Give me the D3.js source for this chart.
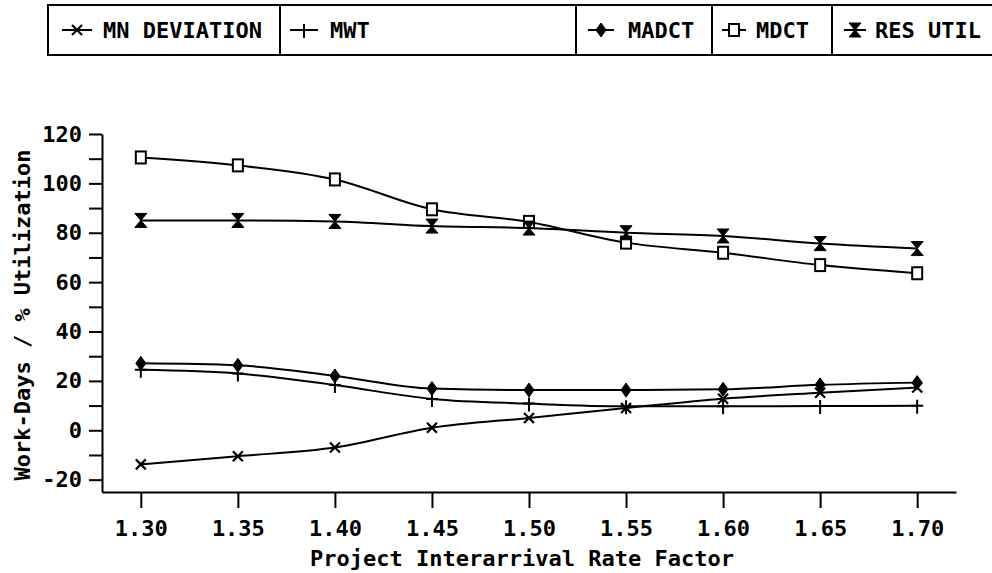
<!DOCTYPE html>
<html>
<head>
  <meta charset="utf-8">
  <title>Work-Days / % Utilization</title>
  <script src="https://cdnjs.cloudflare.com/ajax/libs/d3/7.8.5/d3.min.js"></script>
</head>
<style>
  body { margin: 0; background: #fff; }
  svg { display: block; }
  text { font-family: "DejaVu Sans Mono", monospace; font-size: 22px; font-weight: bold; fill: #000; }
</style>
<body>
<script type="text/javascript">
  // values
  const rateFactor   = [1.30, 1.35, 1.40, 1.45, 1.50, 1.55, 1.60, 1.65, 1.70];
  const mnDeviation  = [-13.8, -10.5, -7, 1, 5, 9, 12.8, 15.2, 17.3];
  const mwt          = [24.5, 23, 18.3, 12.7, 10.8, 9.7, 9.7, 9.8, 9.9];
  const madct        = [27.1, 26.3, 22, 16.9, 16.3, 16.3, 16.6, 18.4, 19.3];
  const mdct         = [110.5, 107.3, 101.6, 89.5, 84.4, 76, 71.9, 66.9, 63.6];
  const resUtil      = [85, 85, 84.6, 82.7, 81.9, 80, 78.7, 75.6, 73.6];
  const seriesNames  = ['MN DEVIATION', 'MWT', 'MADCT', 'MDCT', 'RES UTIL'];
  const yTickValues  = [-20, -10, 0, 10, 20, 30, 40, 50, 60, 70, 80, 90, 100, 110, 120];
  const yTickLabels  = [-20, 0, 20, 40, 60, 80, 100, 120];

  const series = [
    { name: seriesNames[0], values: mnDeviation, mark: 'cross' },
    { name: seriesNames[1], values: mwt, mark: 'plus' },
    { name: seriesNames[2], values: madct, mark: 'diamond' },
    { name: seriesNames[3], values: mdct, mark: 'square' },
    { name: seriesNames[4], values: resUtil, mark: 'hourglass' },
  ];

  const svg = d3.select('body').append('svg').attr('width', 992).attr('height', 573);

  const x = d3.scaleLinear().domain([1.28, 1.72]).range([102, 956]);
  const y = d3.scaleLinear().domain([-25, 120]).range([492, 134]);

  // draws one marker symbol into g
  function drawMark(g, kind) {
    if (kind === 'cross') {
      g.append('path').attr('d', 'M-5,-5L5,5M-5,5L5,-5').attr('stroke', '#000').attr('stroke-width', 2.2);
    } else if (kind === 'plus') {
      g.append('path').attr('d', 'M-6,0L6,0M0,-6L0,8').attr('stroke', '#000').attr('stroke-width', 2);
    } else if (kind === 'diamond') {
      g.append('path').attr('d', 'M0,-7L5,0L0,7L-5,0Z').attr('fill', '#000').attr('stroke', '#000');
    } else if (kind === 'square') {
      g.append('rect').attr('x', -5).attr('y', -6).attr('width', 10).attr('height', 12)
        .attr('fill', '#fff').attr('stroke', '#000').attr('stroke-width', 2);
    } else {
      g.append('path').attr('d', 'M-6,-7L6,-7L-6,7L6,7Z').attr('fill', '#000').attr('stroke', '#000');
    }
  }

  // axes
  const yAxis = d3.axisLeft(y).tickValues(yTickValues).tickSize(13).tickSizeOuter(0).tickPadding(7)
    .tickFormat(d => yTickLabels.includes(d) ? d : '');
  const xAxis = d3.axisBottom(x).tickValues(rateFactor).tickSize(16).tickSizeOuter(0)
    .tickFormat(d3.format('.2f'));

  const gy = svg.append('g').attr('transform', 'translate(102,0)').call(yAxis);
  const gx = svg.append('g').attr('transform', 'translate(0,492)').call(xAxis);
  [gx, gy].forEach(g => {
    g.selectAll('path, line').attr('stroke', '#000').attr('stroke-width', 2);
    g.selectAll('text').style('font-family', '"DejaVu Sans Mono", monospace')
      .style('font-size', '22px').style('font-weight', 'bold');
  });
  gx.selectAll('text').attr('y', 36).attr('dy', '0.35em');

  svg.append('text').attr('x', 522).attr('y', 558).attr('dy', '0.35em')
    .attr('text-anchor', 'middle').text('Project Interarrival Rate Factor');
  svg.append('text').attr('transform', 'translate(22,315) rotate(-90)').attr('dy', '0.35em')
    .attr('text-anchor', 'middle').text('Work-Days / % Utilization');

  // lines
  const line = d3.line().x((d, i) => x(rateFactor[i])).y(d => y(d)).curve(d3.curveMonotoneX);
  svg.selectAll('.series').data(series).enter().append('path')
    .attr('class', 'series')
    .attr('d', d => line(d.values))
    .attr('fill', 'none').attr('stroke', '#000').attr('stroke-width', 2);

  series.forEach(s => {
    s.values.forEach((v, i) => {
      const g = svg.append('g').attr('transform', `translate(${x(rateFactor[i])},${y(v)})`);
      drawMark(g, s.mark);
    });
  });

  // legend box
  const legend = svg.append('g');
  legend.append('rect').attr('x', 48).attr('y', 5).attr('width', 960).attr('height', 50)
    .attr('fill', 'none').attr('stroke', '#000').attr('stroke-width', 2);
  [280, 576, 712, 832].forEach(sx => {
    legend.append('line').attr('x1', sx).attr('x2', sx).attr('y1', 5).attr('y2', 55)
      .attr('stroke', '#000').attr('stroke-width', 2);
  });
  const legendPos = [
    { x0: 62, x1: 92, tx: 103 },
    { x0: 290, x1: 318, tx: 330 },
    { x0: 588, x1: 614, tx: 628 },
    { x0: 722, x1: 746, tx: 756 },
    { x0: 844, x1: 866, tx: 875 },
  ];
  series.forEach((s, i) => {
    const p = legendPos[i];
    legend.append('line').attr('x1', p.x0).attr('x2', p.x1).attr('y1', 30).attr('y2', 30)
      .attr('stroke', '#000').attr('stroke-width', 2);
    const g = legend.append('g').attr('transform', `translate(${(p.x0 + p.x1) / 2},30)`);
    drawMark(g, s.mark);
    legend.append('text').attr('x', p.tx).attr('y', 30).attr('dy', '0.35em').text(s.name);
  });
</script>
</body>
</html>
